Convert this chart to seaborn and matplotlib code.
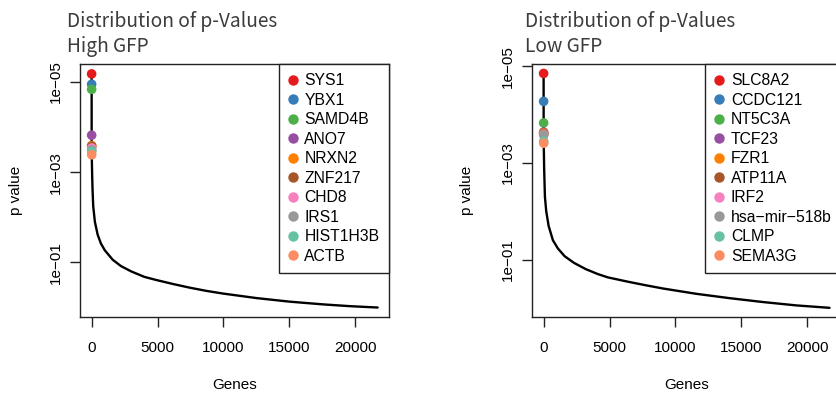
import numpy as np
import pandas as pd
import matplotlib
matplotlib.use("Agg")
import matplotlib.pyplot as plt
import seaborn as sns
from matplotlib.lines import Line2D
from matplotlib.ticker import FixedLocator, NullLocator

# ---------------- data ----------------
high_genes = ["SYS1", "YBX1", "SAMD4B", "ANO7", "NRXN2", "ZNF217", "CHD8", "IRS1", "HIST1H3B", "ACTB"]
high_top_p = [6.6e-6, 1.12e-5, 1.45e-5, 1.51e-4, 2.55e-4, 2.65e-4, 2.9e-4, 3.2e-4, 3.5e-4, 4.1e-4]
high_curve_gene = [45, 72, 121, 250, 455, 705, 1000, 1600, 2220, 3000, 4000, 4900, 6200,
                   7447, 8700, 9970, 12500, 15020, 17545, 19600, 21700]
high_curve_p = [1.26e-3, 2.40e-3, 5.62e-3, 0.0126, 0.0240, 0.0380, 0.0537, 0.0871, 0.120,
                0.158, 0.209, 0.245, 0.302, 0.363, 0.427, 0.490, 0.617, 0.741, 0.851, 0.933, 1.0]

low_genes = ["SLC8A2", "CCDC121", "NT5C3A", "TCF23", "FZR1", "ATP11A", "IRF2", "hsa-mir-518b", "CLMP", "SEMA3G"]
low_top_p = [1.40e-5, 5.3e-5, 1.48e-4, 2.29e-4, 2.40e-4, 2.51e-4, 2.57e-4, 2.63e-4, 3.55e-4, 3.89e-4]
low_curve_gene = [45, 100, 200, 379, 705, 1083, 1591, 2300, 3200, 4114, 4871, 6400, 7700,
                  9060, 11590, 14115, 16640, 19170, 21690]
low_curve_p = [1.41e-3, 5.01e-3, 0.0100, 0.0200, 0.0398, 0.0589, 0.0851, 0.117, 0.158,
               0.200, 0.234, 0.288, 0.339, 0.398, 0.513, 0.631, 0.759, 0.891, 1.0]

point_colors = ["#E41A1C", "#377EB8", "#4DAF4A", "#984EA3", "#FF7F00",
                "#A65628", "#F781BF", "#999999", "#66C2A5", "#FC8D62"]
x_ticks = [0, 5000, 10000, 15000, 20000]
y_ticks = [1e-5, 1e-3, 1e-1]
y_tick_labels = ["1e\u221205", "1e\u221203", "1e\u221201"]
title_main = "Distribution of p-Values"
subtitles = ["High GFP", "Low GFP"]

# ---------------- style ----------------
sns.set_style("white")
plt.rcParams['font.family'] = ['Liberation Sans', 'DejaVu Sans']
plt.rcParams['text.color'] = 'black'

W, H = 836, 395
fig = plt.figure(figsize=(W / 100, H / 100), dpi=100)
EDGE = "#222222"


def px_axes(l, t, r, b):
    return fig.add_axes([l / W, 1 - b / H, (r - l) / W, (b - t) / H])


def panel(ax, genes, top_p, curve_gene, curve_p, ylog):
    rank = np.arange(1, len(genes) + 1)
    df_line = pd.DataFrame({"gene": np.concatenate([rank, curve_gene]),
                            "p": np.concatenate([top_p, curve_p])})
    ax.set_yscale("log")
    sns.lineplot(data=df_line, x="gene", y="p", ax=ax, color="black", lw=1.7,
                 estimator=None, sort=False, zorder=2,
                 solid_joinstyle="round", solid_capstyle="round")
    df_pts = pd.DataFrame({"gene": rank, "p": top_p, "name": genes})
    sns.scatterplot(data=df_pts, x="gene", y="p", hue="name",
                    palette=dict(zip(genes, point_colors)), s=48,
                    edgecolor="none", linewidth=0, legend=False, ax=ax, zorder=3)
    ax.set_xlim(-880, 22560)
    ax.set_ylim(10 ** ylog[1], 10 ** ylog[0])
    ax.xaxis.set_major_locator(FixedLocator(x_ticks))
    ax.set_xticklabels([str(v) for v in x_ticks])
    ax.yaxis.set_major_locator(FixedLocator(y_ticks))
    ax.yaxis.set_minor_locator(NullLocator())
    ax.set_yticklabels(y_tick_labels, rotation=90, va="center")
    ax.set_xlabel("")
    ax.set_ylabel("")
    ax.tick_params(axis="both", which="major", length=7, width=1, color=EDGE,
                   labelsize=11, labelcolor="black", direction="out",
                   bottom=True, left=True)
    ax.tick_params(axis="x", pad=10.5)
    ax.tick_params(axis="y", pad=5)
    for sp in ax.spines.values():
        sp.set_visible(True)
        sp.set_color(EDGE)
        sp.set_linewidth(1)
    handles = [Line2D([], [], marker="o", ls="", color=c, markersize=7.5,
                      markeredgewidth=0) for c in point_colors]
    labels = [g.replace("-", "\u2212") for g in genes]
    leg = ax.legend(handles, labels, loc="upper right", bbox_to_anchor=(1, 1),
                    borderaxespad=0, frameon=True, fancybox=False,
                    edgecolor=EDGE, framealpha=1, fontsize=11.3,
                    handlelength=0.6, handletextpad=0.45, labelspacing=0.285,
                    borderpad=0.6, labelcolor="black")
    leg.get_frame().set_linewidth(1)


ax1 = px_axes(80, 64, 389, 317)
panel(ax1, high_genes, high_top_p, high_curve_gene, high_curve_p, (-5.40, 0.21))
ax2 = px_axes(532, 64, 841, 317)
panel(ax2, low_genes, low_top_p, low_curve_gene, low_curve_p, (-5.05, 0.19))

title_font = ['Noto Sans CJK JP', 'DejaVu Sans']
for x0, sub, axc, ylab_x in [(67, subtitles[0], (80 + 389) / 2, 16),
                             (525, subtitles[1], (532 + 841) / 2, 467)]:
    fig.text(x0 / W, 1 - 26.7 / H, title_main, fontsize=13.8, family=title_font,
             color="#3c3c3c", va="baseline", ha="left")
    fig.text(x0 / W, 1 - 51.7 / H, sub, fontsize=13.8, family=title_font,
             color="#3c3c3c", va="baseline", ha="left")
    fig.text(axc / W, 1 - 385 / H, "Genes", fontsize=11, ha="center", va="center",
             color="black")
    fig.text(ylab_x / W, 1 - 190.5 / H, "p value", fontsize=11, rotation=90,
             ha="center", va="center", color="black")

fig.savefig("out.png", dpi=100)
